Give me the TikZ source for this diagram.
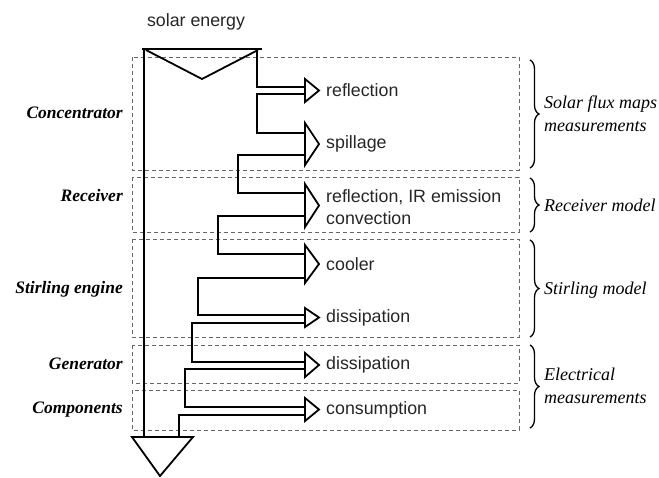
\documentclass[tikz,border=0pt]{standalone}
\usepackage{fontspec}
\setmainfont{Liberation Serif}
\setsansfont{Liberation Sans}
\usetikzlibrary{decorations.pathreplacing}
\begin{document}
\begin{tikzpicture}[x=1pt, y=-1pt,
  band/.style = {line width=1.8pt, line join=miter},
  head/.style = {line width=1.8pt, fill=white, line join=miter},
  part/.style = {draw=black!60, line width=0.9pt, dash pattern=on 4pt off 3pt},
  flow/.style = {anchor=west, inner sep=0pt, font=\sffamily\fontsize{17.8}{22}\selectfont, text=black!85, align=left},
  unit/.style = {anchor=east, inner sep=0pt, font=\bfseries\itshape\fontsize{17.5}{20}\selectfont},
  model/.style = {anchor=west, inner sep=0pt, font=\itshape\fontsize{18}{23}\selectfont, align=left},
  bracket/.style = {line width=1.3pt, decorate, decoration={brace, amplitude=9pt}}]
		\useasboundingbox (0,0) rectangle (659,477);
		\draw[part] (132,57) rectangle (519,170);
		\draw[part] (132,177) rectangle (519,232);
		\draw[part] (132,239) rectangle (519,337);
		\draw[part] (132,345) rectangle (519,383);
		\draw[part] (132,390) rectangle (519,430);
		\node[flow] (sun) at (196,22) [anchor=center] {solar energy};
		\draw[band] (142,49) -- (262,49);
		\draw[band] (146,50) -- (202,79) -- (258,50);
		\draw[band] (144,49) -- (144,437);
		\draw[band] (257,49) -- (257,87) -- (305,87);
		\draw[band] (305,94) -- (257,94) -- (257,133) -- (305,133);
		\draw[band] (305,155) -- (238,155) -- (238,193) -- (305,193);
		\draw[band] (305,216) -- (218,216) -- (218,254) -- (305,254);
		\draw[band] (305,278) -- (198,278) -- (198,315) -- (305,315);
		\draw[band] (305,323) -- (192,323) -- (192,362) -- (305,362);
		\draw[band] (305,369) -- (185,369) -- (185,407) -- (305,407);
		\draw[band] (305,415) -- (179,415) -- (179,437);
		\draw[band] (132,437) -- (193,437) -- (160,476) -- cycle;
		\foreach \c/\h in {90.5/11.5, 144/21, 205.5/21.5, 264/19, 317.5/9.5, 365/12, 409.5/11.5}
			\draw[head] (305,{\c-\h}) -- (319,\c) -- (305,{\c+\h}) -- cycle;
		\node[flow] (refl) at (326,90.5) {reflection};
		\node[flow] (spill) at (326,144) {spillage};
		\node[flow] (loss) at (326,207.5) {reflection, IR emission\\convection};
		\node[flow] (cool) at (326,264) {cooler};
		\node[flow] (diss1) at (326,317.5) {dissipation};
		\node[flow] (diss2) at (326,365) {dissipation};
		\node[flow] (cons) at (326,409.5) {consumption};
		\node[unit] (conc) at (123,113) {Concentrator};
		\node[unit] (recv) at (123,196) {Receiver};
		\node[unit] (stir) at (123,289) {Stirling engine};
		\node[unit] (gen) at (123,364) {Generator};
		\node[unit] (comp) at (123,410) {Components};
		\draw[bracket] (530,60) -- (530,168);
		\draw[bracket] (530,178) -- (530,232);
		\draw[bracket] (530,240) -- (530,337);
		\draw[bracket] (530,345) -- (530,428);
		\node[model] (flux) at (544,114) {Solar flux maps\\measurements};
		\node[model] (rmod) at (544,205) {Receiver model};
		\node[model] (smod) at (544,290) {Stirling model};
		\node[model] (elec) at (544,386) {Electrical\\measurements};
	\end{tikzpicture}
\end{document}
